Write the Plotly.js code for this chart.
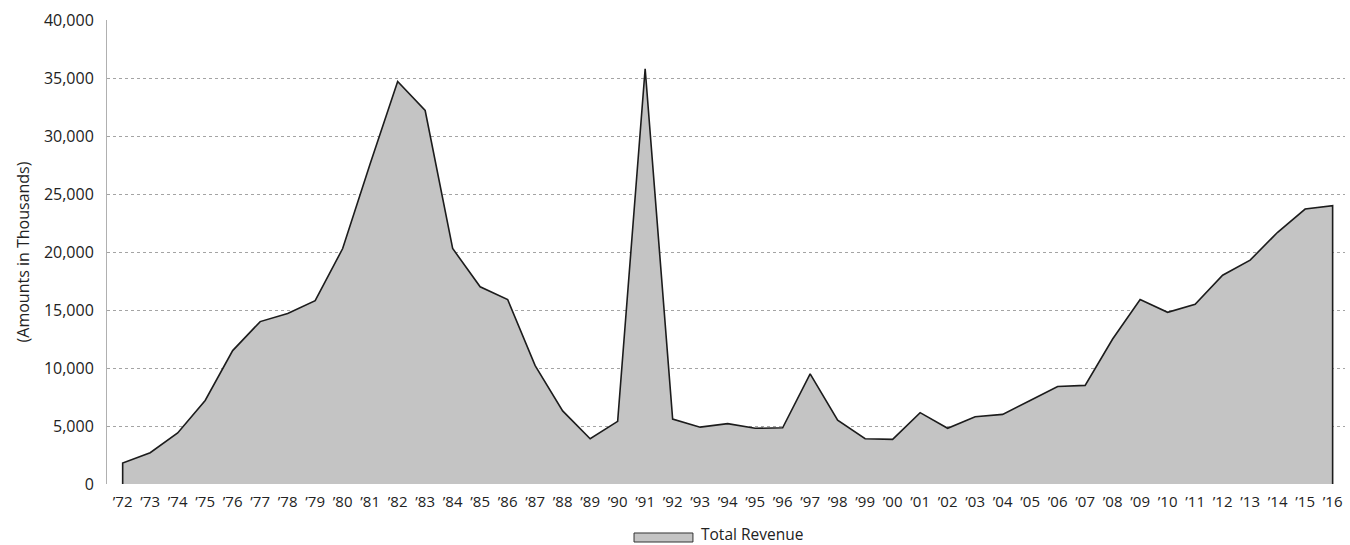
<!DOCTYPE html>
<html>
<head>
<meta charset="utf-8">
<script src="https://cdn.plot.ly/plotly-3.0.1.min.js"></script>
<style>html,body{margin:0;padding:0;background:#fff;}#chart{width:1350px;height:545px;}</style>
</head>
<body>
<div id="chart"></div>
<script>
const years = ["’72","’73","’74","’75","’76","’77","’78","’79","’80","’81","’82","’83","’84","’85","’86","’87","’88","’89","’90","’91","’92","’93","’94","’95","’96","’97","’98","’99","’00","’01","’02","’03","’04","’05","’06","’07","’08","’09","’10","’11","’12","’13","’14","’15","’16"];
const totalRevenue = [1800,2700,4400,7200,11500,14000,14700,15800,20300,27600,34700,32200,20300,17000,15900,10200,6300,3900,5400,35800,5600,4900,5200,4800,4850,9500,5500,3900,3850,6150,4800,5800,6000,7200,8400,8500,12500,15900,14800,15500,18000,19300,21700,23700,24000];
const seriesName = "Total Revenue";
const yTicks = [0,5000,10000,15000,20000,25000,30000,35000,40000];

const xs = [years[0]].concat(years, [years[years.length-1]]);
const ys = [0].concat(totalRevenue, [0]);

const font = "'Open Sans', 'Noto Sans', sans-serif";
const fillColor = '#c4c4c4';
const trace = {
  x: xs, y: ys, type: 'scatter', mode: 'lines', name: seriesName,
  fill: 'toself', fillcolor: fillColor,
  line: {color: '#1c1c1c', width: 1.6},
  hoverinfo: 'skip', showlegend: false
};
const layout = {
  width: 1350, height: 545,
  margin: {l: 107, r: 5, t: 20, b: 61, autoexpand: false},
  paper_bgcolor: '#fff', plot_bgcolor: '#fff',
  font: {family: font, color: '#222', size: 15},
  showlegend: false,
  xaxis: {
    type: 'category', categoryorder: 'array', categoryarray: years,
    range: [-0.57, 44.45], showgrid: false, zeroline: false,
    showline: false, ticks: '', ticklabelstandoff: 7,
    tickfont: {size: 15, color: '#222'}, fixedrange: true
  },
  yaxis: {
    range: [0, 40000], tickvals: yTicks, tickformat: ',d',
    showgrid: true, gridcolor: '#a4a4a4', griddash: 'dot', gridwidth: 1,
    zeroline: false, showline: true, linecolor: '#b0b0b0', linewidth: 1,
    ticks: '', ticklabelstandoff: 9,
    tickfont: {size: 16, color: '#222'},
    title: {text: '(Amounts in Thousands)', font: {size: 16, color: '#222'}, standoff: 10},
    fixedrange: true
  },
  shapes: [{
    type: 'rect', xref: 'paper', yref: 'paper',
    x0: 0.4257, x1: 0.4733, y0: -0.125, y1: -0.1056,
    fillcolor: fillColor, line: {color: '#333', width: 1}
  }],
  annotations: [{
    xref: 'paper', yref: 'paper', x: 0.479, y: -0.1078,
    xanchor: 'left', yanchor: 'middle', showarrow: false, borderpad: 0,
    text: seriesName, font: {size: 15.5, color: '#222'}
  }]
};
Plotly.newPlot('chart', [trace], layout, {displayModeBar: false, staticPlot: true});
</script>
</body>
</html>
